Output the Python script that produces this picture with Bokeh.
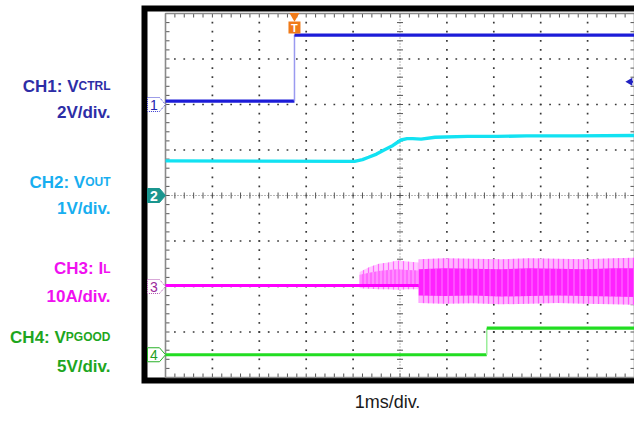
import numpy as np
from bokeh.plotting import figure
from bokeh.models import Range1d, ColumnDataSource
from bokeh.core.properties import value
from bokeh.embed import file_html
from bokeh.resources import INLINE

# ---------------- data ----------------
# time axis: 1 ms/div, 10 divisions, trigger at t = 0 ms
t_left, t_right = -2.75, 7.25

# CH1: V_CTRL (V), 2 V/div
ch1_t = [-2.75, 0.0, 0.0, 7.25]
ch1_v = [0.15, 0.15, 3.05, 3.05]

# CH2: V_OUT (V), 1 V/div
ch2_t = [-2.75, 1.28, 1.45, 1.58, 1.75, 1.89, 2.10, 2.27, 2.40, 2.52, 2.70,
         3.00, 3.69, 4.32, 4.95, 6.00, 7.25]
ch2_v = [0.76, 0.75, 0.79, 0.84, 0.91, 0.99, 1.10, 1.22, 1.25, 1.25, 1.24,
         1.28, 1.30, 1.30, 1.31, 1.31, 1.32]

# CH3: I_L (A), 10 A/div  -- baseline and switching envelopes
il_base_t = [-2.75, 2.65]
il_base_a = [0.2, 0.2]
il_b1_t = [1.39, 1.60, 1.80, 2.00, 2.20, 2.40, 2.64]
il_b1_hi = [3.2, 4.3, 5.0, 5.3, 5.7, 5.5, 5.3]
il_b1_lo = [-0.4, -0.5, -0.6, -0.6, -0.7, -0.6, -0.6]
il_b1_core = [2.6, 3.0, 3.4, 3.6, 3.8, 3.6, 3.5]
il_b2_t = [2.65, 3.20, 3.80, 4.40, 5.00, 5.60, 6.20, 6.80, 7.25]
il_b2_hi = [6.0, 6.2, 6.1, 6.0, 6.2, 6.1, 6.0, 6.2, 6.3]
il_b2_lo = [-3.6, -3.8, -3.7, -3.9, -3.8, -3.6, -3.8, -3.9, -4.0]
il_b2_core_hi = [3.8, 4.0, 3.9, 3.8, 4.0, 3.9, 3.8, 4.0, 4.0]
il_b2_core_lo = [-2.0, -2.1, -2.0, -2.2, -2.1, -2.0, -2.1, -2.2, -2.3]

# CH4: V_PGOOD (V), 5 V/div
ch4_t = [-2.75, 4.10, 4.10, 7.25]
ch4_v = [0.0, 0.0, 2.92, 2.92]

# trigger level (CH1, V)
trig_level_v = 1.0

# channel settings: name, units per div, ground offset (div)
ch_names = ["ch1", "ch2", "ch3", "ch4"]
ch_scale = [2.0, 1.0, 10.0, 5.0]
ch_offset = [6.0, 4.0, 2.0, 0.5]
ch_main = ["CH1: V", "CH2: V", "CH3: I", "CH4: V"]
ch_sub = ["CTRL", "OUT", "L", "PGOOD"]
ch_div = ["2V/div.", "1V/div.", "10A/div.", "5V/div."]
ch_num = ["1", "2", "3", "4"]
time_label = "1ms/div."

# ---------------- layout / style ----------------
W, H = 634, 412
GRID_L, GRID_T = 165, 13         # grid origin in figure pixels
DIV_X, DIV_Y = 46.9, 45.5        # pixels per division
NX, NY = 10, 8

xs0 = t_left - GRID_L / DIV_X
xs1 = xs0 + W / DIV_X
ys1 = NY + GRID_T / DIV_Y
ys0 = ys1 - H / DIV_Y

def fx(px):   # figure pixel -> x data
    return xs0 + px / DIV_X

def fy(py):   # figure pixel (from top) -> y div
    return ys1 - py / DIV_Y

def dx(px):
    return px / DIV_X

def dy(px):
    return px / DIV_Y

trace_col = ["#1c1cd8", "#12e2f2", "#ff00ff", "#22dd22"]
edge_col = ["#9a9af0", "#12e2f2", "#ff00ff", "#9aee9a"]
label_col = ["#2d2da6", "#17aef0", "#f010f0", "#1ea61e"]
label_y_main = [85.7, 181.7, 268.3, 336.7]   # baselines, figure px
label_y_div = [111.7, 208.3, 295.7, 365.7]
LABEL_RIGHT = 110

p = figure(width=W, height=H, x_range=Range1d(xs0, xs1), y_range=Range1d(ys0, ys1),
           output_backend="svg", toolbar_location=None,
           x_axis_location=None, y_axis_location=None, min_border=0,
           outline_line_color=None, background_fill_color="white",
           border_fill_color="white")
p.grid.visible = False

p.extra_y_ranges = {n: Range1d((ys0 - o) * s, (ys1 - o) * s)
                    for n, s, o in zip(ch_names, ch_scale, ch_offset)}

# ---- black scope frame ----
p.quad(left=fx(141), right=fx(700), top=fy(5), bottom=fy(383), fill_color="black", line_color=None)
p.quad(left=fx(147), right=t_right + dx(0.5), top=fy(11), bottom=0, fill_color="white", line_color=None)

# ---- graticule ----
gx, gy = [], []
for i in range(1, NX):
    if i == 5:
        continue
    for yy in np.arange(0.2, NY, 0.2):
        gx.append(t_left + i); gy.append(yy)
for j in range(1, NY):
    if j == 4:
        continue
    for xx in np.arange(0.2, NX, 0.2):
        gx.append(t_left + xx); gy.append(j)
p.scatter(gx, gy, marker="square", size=1.7, color="#383838", line_color=None)

tc = t_left + 5
p.line([tc, tc], [0, NY], line_color="#707070", line_width=1, line_dash="1 2")
p.line([t_left, t_right], [4, 4], line_color="#707070", line_width=1, line_dash="1 2")

tk_x0, tk_x1, tk_y0, tk_y1 = [], [], [], []
for yy in np.arange(0.2, NY, 0.2):
    tk_x0 += [tc - dx(3), t_left, t_right - dx(4)]
    tk_x1 += [tc + dx(3), t_left + dx(4), t_right]
    tk_y0 += [yy, yy, yy]
    tk_y1 += [yy, yy, yy]
for xx in np.arange(0.2, NX, 0.2):
    tk_x0 += [t_left + xx] * 3
    tk_x1 += [t_left + xx] * 3
    tk_y0 += [4 - dy(3), 0, NY - dy(4)]
    tk_y1 += [4 + dy(3), dy(4), NY]
p.segment(tk_x0, tk_y0, tk_x1, tk_y1, line_color="#555555", line_width=1)

p.quad(left=t_left, right=t_right, bottom=0, top=NY, fill_color=None,
       line_color="#8a8a8a", line_width=1.6)

# ---- CH3 current envelopes ----
p.varea(x=il_b1_t, y1=il_b1_lo, y2=il_b1_hi, y_range_name="ch3",
        fill_color="#ffc8ff", hatch_pattern="vertical_line", hatch_color="#ff66ff",
        hatch_scale=5, hatch_weight=1.2)
p.varea(x=il_b1_t, y1=il_base_a[0], y2=il_b1_core, y_range_name="ch3",
        fill_color="#ff8cff", hatch_pattern="vertical_line", hatch_color="#ff44ff",
        hatch_scale=4, hatch_weight=1)
p.varea(x=il_b2_t, y1=il_b2_lo, y2=il_b2_hi, y_range_name="ch3",
        fill_color="#ffb4ff", hatch_pattern="vertical_line", hatch_color="#ff55ff",
        hatch_scale=5, hatch_weight=1.3)
p.varea(x=il_b2_t, y1=il_b2_core_lo, y2=il_b2_core_hi, y_range_name="ch3",
        fill_color="#ff22ff", hatch_pattern="vertical_line", hatch_color="#ff77ff",
        hatch_scale=6, hatch_weight=1)
p.line(il_base_t, il_base_a, y_range_name="ch3", line_color=trace_col[2], line_width=3)

# ---- step traces (CH1, CH4) ----
def step_trace(t, v, name, col, ecol):
    t = np.asarray(t, float); v = np.asarray(v, float)
    vertical = t[:-1] == t[1:]
    src = ColumnDataSource(dict(
        x0=t[:-1], x1=t[1:], y0=v[:-1], y1=v[1:],
        w=np.where(vertical, 1.5, 3.2),
        c=np.where(vertical, ecol, col)))
    p.segment("x0", "y0", "x1", "y1", source=src, y_range_name=name,
              line_width="w", line_color="c", line_cap="butt")

step_trace(ch1_t, ch1_v, "ch1", trace_col[0], edge_col[0])
step_trace(ch4_t, ch4_v, "ch4", trace_col[3], edge_col[3])
p.line(ch2_t, ch2_v, y_range_name="ch2", line_color=trace_col[1], line_width=3.4,
       line_join="round")

# ---- channel ground markers ----
mk_fill = ["white", "#1a968f", "white", "white"]
mk_line = ["#3a3ad0", "#1a968f", "#b050b0", "#28b028"]
mk_text = ["#2424b0", "white", "#9a2a9a", "#1f9f1f"]
mk_dash = ["1 1", "solid", "1 1", "solid"]
for k in range(4):
    o = ch_offset[k]
    xs = [t_left - dx(18), t_left - dx(6), t_left, t_left - dx(6), t_left - dx(18)]
    ys = [o + dy(7), o + dy(7), o, o - dy(7), o - dy(7)]
    p.patch(xs, ys, fill_color=mk_fill[k], line_color=mk_line[k], line_width=1,
            line_dash=mk_dash[k])
    p.text(x=[t_left - dx(11.5)], y=[o], text=[ch_num[k]], text_align="center",
           text_baseline="middle", text_font=value("Liberation Sans"),
           text_font_size="14px", text_font_style="bold" if k == 1 else "normal",
           text_color=mk_text[k])

# ---- trigger markers ----
p.scatter([0.0], [NY - dy(2.5)], marker="inverted_triangle", size=10,
          color="#f07a18", line_color=None)
p.scatter([0.0], [NY - dy(14)], marker="square", size=12, color="#f07a18",
          line_color=None)
p.text(x=[0.0], y=[NY - dy(14)], text=["T"], text_align="center",
       text_baseline="middle", text_font=value("Liberation Sans"),
       text_font_size="11px", text_font_style="bold", text_color="white")
p.scatter([t_right - dx(4.5)], [trig_level_v], y_range_name="ch1", marker="triangle",
          angle=np.pi / 2, size=8, color="#2020c0", line_color=None)
p.line([t_right - dx(4), t_right - dx(1.5)], [trig_level_v, trig_level_v],
       y_range_name="ch1", line_color="#2020c0", line_width=2)

# ---- channel labels ----
adv = {"C": .722, "T": .611, "R": .722, "L": .611, "O": .778, "U": .722,
       "P": .667, "G": .778, "D": .722}
for k in range(4):
    sub_w = sum(adv[c] for c in ch_sub[k]) * 12
    p.text(x=[fx(LABEL_RIGHT - sub_w)], y=[fy(label_y_main[k])], text=[ch_main[k]],
           text_align="right", text_baseline="alphabetic",
           text_font=value("Liberation Sans"), text_font_size="17px",
           text_font_style="bold", text_color=label_col[k])
    p.text(x=[fx(LABEL_RIGHT)], y=[fy(label_y_main[k])], text=[ch_sub[k]],
           text_align="right", text_baseline="alphabetic",
           text_font=value("Liberation Sans"), text_font_size="12px",
           text_font_style="bold", text_color=label_col[k])
    p.text(x=[fx(LABEL_RIGHT)], y=[fy(label_y_div[k])], text=[ch_div[k]],
           text_align="right", text_baseline="alphabetic",
           text_font=value("Liberation Sans"), text_font_size="17px",
           text_font_style="bold", text_color=label_col[k])

p.text(x=[fx(387)], y=[fy(401)], text=[time_label], text_align="center",
       text_baseline="alphabetic", text_font=value("Liberation Sans"),
       text_font_size="18px", text_color="#1a1a1a")

open("out.html", "w").write(file_html(p, INLINE))
